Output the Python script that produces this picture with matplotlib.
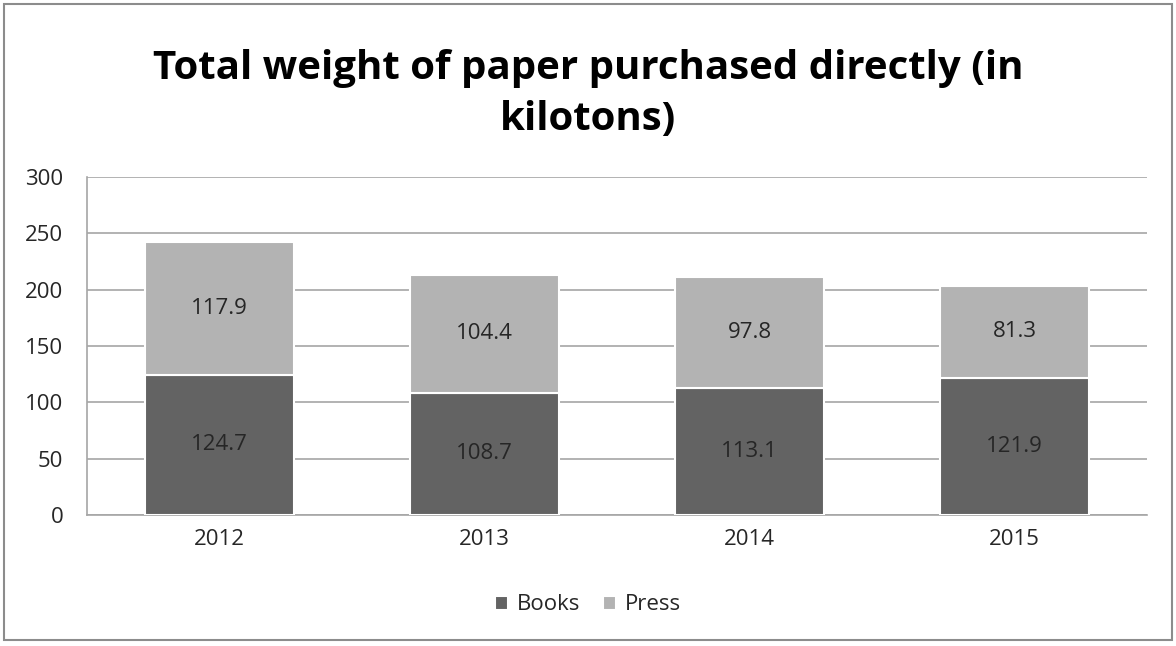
import matplotlib.pyplot as plt
from matplotlib.patches import Rectangle
import numpy as np

years = ["2012", "2013", "2014", "2015"]
books = [124.7, 108.7, 113.1, 121.9]
press = [117.9, 104.4, 97.8, 81.3]

BOOKS_COLOR = "#636363"
PRESS_COLOR = "#b3b3b3"
TEXT_COLOR = "#262626"
FS = 16

plt.rcParams["font.family"] = ["Open Sans", "DejaVu Sans"]

fig = plt.figure(figsize=(11.76, 6.46), dpi=100)
ax = fig.add_axes([87 / 1176, 1 - 515 / 646, (1147 - 87) / 1176, (515 - 177) / 646])

x = np.arange(len(years))
width = 0.56

b1 = ax.bar(x, books, width, color=BOOKS_COLOR, edgecolor="white", linewidth=1.5,
            label="Books", zorder=3)
b2 = ax.bar(x, press, width, bottom=books, color=PRESS_COLOR, edgecolor="white",
            linewidth=1.5, label="Press", zorder=3)

# value labels in the middle of each segment
for bars, vals, bottoms in ((b1, books, [0] * 4), (b2, press, books)):
    for rect, v, b in zip(bars, vals, bottoms):
        ax.text(rect.get_x() + rect.get_width() / 2, b + v / 2, f"{v:.1f}",
                ha="center", va="center", fontsize=FS, color=TEXT_COLOR, zorder=4)

ax.set_xlim(-0.5, len(years) - 0.5)
ax.set_ylim(0, 300)
ax.set_yticks(range(0, 301, 50))
ax.set_xticks(x)
ax.set_xticklabels(years)
ax.tick_params(axis="both", length=0, labelsize=FS, labelcolor=TEXT_COLOR)
ax.tick_params(axis="x", pad=10)
ax.tick_params(axis="y", pad=17)

ax.grid(axis="y", color="#a6a6a6", linewidth=1.2, zorder=0)
for side in ("top", "right"):
    ax.spines[side].set_visible(False)
for side in ("left", "bottom"):
    ax.spines[side].set_color("#a6a6a6")
    ax.spines[side].set_linewidth(1.2)

fig.text(0.5, 1 - 69 / 646, "Total weight of paper purchased directly (in",
         ha="center", va="center", fontsize=29, fontweight="bold", color="black")
fig.text(0.5, 1 - 120 / 646, "kilotons)",
         ha="center", va="center", fontsize=29, fontweight="bold", color="black")

leg = fig.legend(handles=[b1, b2], labels=["Books", "Press"], loc="center",
                 bbox_to_anchor=(0.5, 1 - 605 / 646), ncol=2, frameon=False,
                 fontsize=FS, handlelength=0.6, handleheight=0.6,
                 handletextpad=0.4, columnspacing=1.0)
for t in leg.get_texts():
    t.set_color(TEXT_COLOR)

# outer chart border
fig.add_artist(Rectangle((4 / 1176, 6 / 646), 1 - 8 / 1176, 1 - 10 / 646,
                         transform=fig.transFigure, fill=False,
                         edgecolor="#8c8c8c", linewidth=1.5))

fig.savefig("out.png", dpi=100, facecolor="white")
